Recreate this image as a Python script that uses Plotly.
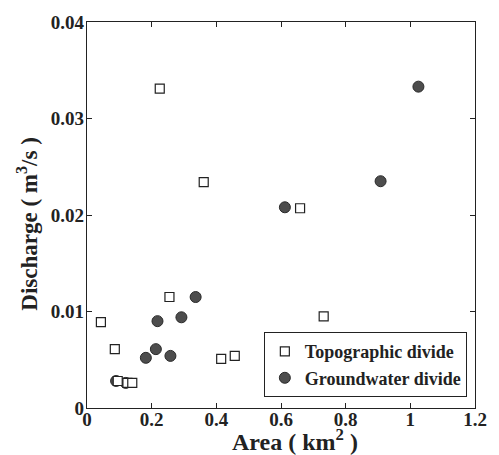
import plotly.graph_objects as go

topo_area = [0.225, 0.361, 0.659, 0.732, 0.043, 0.086, 0.255, 0.415, 0.457, 0.095, 0.125, 0.140]
topo_q = [0.0331, 0.0234, 0.0207, 0.0095, 0.0089, 0.0061, 0.0115, 0.0051, 0.0054, 0.0028, 0.0026, 0.0026]

gw_area = [1.025, 0.908, 0.612, 0.336, 0.292, 0.218, 0.213, 0.182, 0.258, 0.090, 0.120]
gw_q = [0.0333, 0.0235, 0.0208, 0.0115, 0.0094, 0.0090, 0.0061, 0.0052, 0.0054, 0.0028, 0.0026]

x_ticks = [0, 0.2, 0.4, 0.6, 0.8, 1.0, 1.2]
x_labels = ["0", "0.2", "0.4", "0.6", "0.8", "1", "1.2"]
y_ticks = [0, 0.01, 0.02, 0.03, 0.04]
y_labels = ["0", "0.01", "0.02", "0.03", "0.04"]

font = "Liberation Serif"
ink = "#222222"

fig = go.Figure()
fig.add_trace(go.Scatter(
    x=gw_area, y=gw_q, mode="markers", name="Groundwater divide",
    marker=dict(symbol="circle", size=11, color="#4d4d4d", line=dict(color="#2a2a2a", width=1)),
))
fig.add_trace(go.Scatter(
    x=topo_area, y=topo_q, mode="markers", name="Topographic divide",
    marker=dict(symbol="square", size=9, color="white", line=dict(color=ink, width=1.2)),
))

axis_common = dict(
    showgrid=False, zeroline=False, showline=True, linecolor=ink, linewidth=1.2,
    mirror="ticks", ticks="inside", ticklen=5, tickcolor=ink,
    tickfont=dict(family=font, size=19, color=ink, weight="bold"),
)

fig.update_layout(
    width=499, height=455,
    margin=dict(l=87, r=23, t=18, b=47),
    paper_bgcolor="white", plot_bgcolor="white",
    font=dict(family=font, color=ink),
    xaxis=dict(range=[0, 1.2], tickvals=x_ticks, ticktext=x_labels, ticklabelstandoff=-6, **axis_common),
    yaxis=dict(range=[0, 0.04], tickvals=y_ticks, ticktext=y_labels, ticklabelstandoff=-2, **axis_common),
    legend=dict(x=0.979, y=0.028, xanchor="right", yanchor="bottom", traceorder="reversed",
                bgcolor="white", bordercolor=ink, borderwidth=1,
                font=dict(family=font, size=18, color=ink, weight="bold"),
                itemwidth=30, tracegroupgap=0),
    showlegend=True,
    annotations=[
        dict(text="<b>Area ( km<sup>2</sup> )</b>", xref="paper", yref="paper",
             x=0.535, y=-0.083, xanchor="center", yanchor="middle", showarrow=False,
             font=dict(family=font, size=24, color=ink)),
        dict(text="<b>Discharge ( m<sup>3</sup>/s )</b>", xref="paper", yref="paper",
             x=-0.152, y=0.475, xanchor="center", yanchor="middle", showarrow=False,
             textangle=-90, font=dict(family=font, size=23, color=ink)),
    ],
)

fig.write_html("out.html", config={"displayModeBar": False},
               post_script="document.body.style.margin='0';")
